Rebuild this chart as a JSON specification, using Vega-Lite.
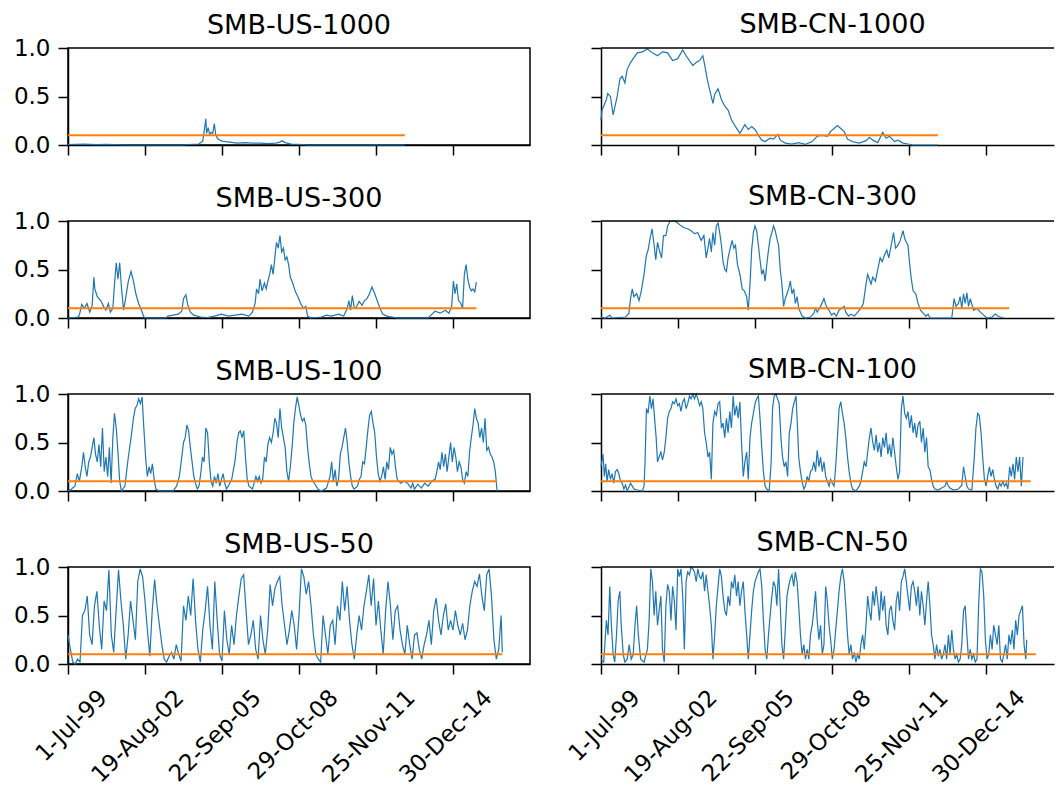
{
"$schema": "https://vega.github.io/schema/vega-lite/v6.json",
"background": "white",
"padding": {"left": 12, "top": 10, "right": 0, "bottom": 0},
"columns": 2,
"spacing": {"row": 76, "column": 71},
"bounds": "flush",
"datasets": {
"a": [{"t":0,"v":0.005},{"t":160,"v":0.01},{"t":300,"v":0.004},{"t":400,"v":0.006},{"t":640,"v":0.0},{"t":1200,"v":0.0},{"t":1240,"v":0.005},{"t":1360,"v":0.01},{"t":1400,"v":0.04},{"t":1416,"v":0.15},{"t":1432,"v":0.27},{"t":1440,"v":0.12},{"t":1456,"v":0.18},{"t":1472,"v":0.11},{"t":1488,"v":0.13},{"t":1504,"v":0.12},{"t":1520,"v":0.22},{"t":1536,"v":0.10},{"t":1560,"v":0.06},{"t":1600,"v":0.04},{"t":1640,"v":0.035},{"t":1680,"v":0.03},{"t":1720,"v":0.025},{"t":1760,"v":0.02},{"t":1840,"v":0.025},{"t":1920,"v":0.02},{"t":2000,"v":0.02},{"t":2080,"v":0.015},{"t":2160,"v":0.02},{"t":2200,"v":0.03},{"t":2224,"v":0.045},{"t":2256,"v":0.025},{"t":2320,"v":0.01},{"t":2440,"v":0.005},{"t":2480,"v":0.0},{"t":3500,"v":0.0}],
"b": [{"t":0,"v":0.26},{"t":10,"v":0.36},{"t":28,"v":0.40},{"t":56,"v":0.47},{"t":70,"v":0.53},{"t":98,"v":0.50},{"t":126,"v":0.31},{"t":168,"v":0.50},{"t":196,"v":0.68},{"t":220,"v":0.71},{"t":248,"v":0.64},{"t":272,"v":0.78},{"t":307,"v":0.85},{"t":342,"v":0.90},{"t":377,"v":0.95},{"t":430,"v":0.96},{"t":482,"v":0.99},{"t":534,"v":0.95},{"t":587,"v":0.92},{"t":639,"v":0.96},{"t":692,"v":0.95},{"t":744,"v":0.87},{"t":797,"v":0.89},{"t":849,"v":0.98},{"t":884,"v":0.92},{"t":919,"v":0.87},{"t":954,"v":0.82},{"t":989,"v":0.85},{"t":1024,"v":0.87},{"t":1058,"v":0.92},{"t":1076,"v":0.83},{"t":1104,"v":0.68},{"t":1128,"v":0.57},{"t":1163,"v":0.43},{"t":1181,"v":0.52},{"t":1216,"v":0.58},{"t":1251,"v":0.47},{"t":1286,"v":0.40},{"t":1320,"v":0.36},{"t":1355,"v":0.26},{"t":1397,"v":0.19},{"t":1443,"v":0.12},{"t":1495,"v":0.21},{"t":1530,"v":0.16},{"t":1565,"v":0.19},{"t":1600,"v":0.16},{"t":1635,"v":0.10},{"t":1670,"v":0.05},{"t":1705,"v":0.035},{"t":1757,"v":0.07},{"t":1792,"v":0.06},{"t":1838,"v":0.11},{"t":1862,"v":0.05},{"t":1914,"v":0.02},{"t":1984,"v":0.01},{"t":2054,"v":0.025},{"t":2124,"v":0.007},{"t":2194,"v":0.035},{"t":2246,"v":0.09},{"t":2299,"v":0.10},{"t":2351,"v":0.09},{"t":2386,"v":0.14},{"t":2421,"v":0.17},{"t":2456,"v":0.20},{"t":2491,"v":0.17},{"t":2526,"v":0.14},{"t":2561,"v":0.06},{"t":2613,"v":0.035},{"t":2683,"v":0.02},{"t":2753,"v":0.045},{"t":2788,"v":0.08},{"t":2823,"v":0.05},{"t":2875,"v":0.025},{"t":2927,"v":0.13},{"t":2962,"v":0.07},{"t":2997,"v":0.09},{"t":3050,"v":0.035},{"t":3085,"v":0.05},{"t":3137,"v":0.02},{"t":3189,"v":0.01},{"t":3242,"v":0.0},{"t":3500,"v":0.0}],
"c": [{"t":0,"v":0.0},{"t":107,"v":0.01},{"t":118,"v":0.03},{"t":143,"v":0.14},{"t":168,"v":0.10},{"t":197,"v":0.15},{"t":226,"v":0.06},{"t":251,"v":0.13},{"t":269,"v":0.42},{"t":279,"v":0.30},{"t":304,"v":0.22},{"t":340,"v":0.18},{"t":369,"v":0.12},{"t":394,"v":0.08},{"t":419,"v":0.15},{"t":440,"v":0.06},{"t":466,"v":0.10},{"t":483,"v":0.35},{"t":501,"v":0.57},{"t":519,"v":0.40},{"t":537,"v":0.57},{"t":555,"v":0.32},{"t":577,"v":0.08},{"t":598,"v":0.20},{"t":627,"v":0.38},{"t":655,"v":0.48},{"t":680,"v":0.38},{"t":705,"v":0.25},{"t":734,"v":0.15},{"t":763,"v":0.08},{"t":788,"v":0.01},{"t":824,"v":0.0},{"t":1021,"v":0.0},{"t":1038,"v":0.02},{"t":1092,"v":0.03},{"t":1146,"v":0.04},{"t":1182,"v":0.07},{"t":1200,"v":0.20},{"t":1225,"v":0.24},{"t":1243,"v":0.14},{"t":1271,"v":0.06},{"t":1307,"v":0.03},{"t":1379,"v":0.01},{"t":1450,"v":0.005},{"t":1522,"v":0.02},{"t":1594,"v":0.04},{"t":1665,"v":0.02},{"t":1737,"v":0.03},{"t":1808,"v":0.04},{"t":1880,"v":0.02},{"t":1916,"v":0.06},{"t":1944,"v":0.15},{"t":1959,"v":0.30},{"t":1980,"v":0.25},{"t":1995,"v":0.40},{"t":2016,"v":0.28},{"t":2041,"v":0.36},{"t":2059,"v":0.30},{"t":2077,"v":0.38},{"t":2095,"v":0.45},{"t":2113,"v":0.55},{"t":2131,"v":0.45},{"t":2149,"v":0.62},{"t":2166,"v":0.78},{"t":2184,"v":0.72},{"t":2202,"v":0.85},{"t":2220,"v":0.68},{"t":2238,"v":0.72},{"t":2256,"v":0.60},{"t":2274,"v":0.63},{"t":2292,"v":0.55},{"t":2310,"v":0.42},{"t":2338,"v":0.35},{"t":2363,"v":0.27},{"t":2389,"v":0.22},{"t":2417,"v":0.15},{"t":2446,"v":0.10},{"t":2471,"v":0.12},{"t":2489,"v":0.02},{"t":2525,"v":0.0},{"t":2632,"v":0.01},{"t":2686,"v":0.03},{"t":2739,"v":0.02},{"t":2811,"v":0.04},{"t":2865,"v":0.02},{"t":2901,"v":0.10},{"t":2918,"v":0.18},{"t":2936,"v":0.08},{"t":2954,"v":0.23},{"t":2972,"v":0.12},{"t":2990,"v":0.10},{"t":3026,"v":0.17},{"t":3055,"v":0.13},{"t":3080,"v":0.18},{"t":3105,"v":0.20},{"t":3133,"v":0.25},{"t":3158,"v":0.32},{"t":3187,"v":0.25},{"t":3212,"v":0.18},{"t":3241,"v":0.10},{"t":3269,"v":0.04},{"t":3312,"v":0.02},{"t":3366,"v":0.01},{"t":3420,"v":0.0},{"t":3742,"v":0.0},{"t":3771,"v":0.03},{"t":3814,"v":0.07},{"t":3867,"v":0.05},{"t":3921,"v":0.08},{"t":3957,"v":0.05},{"t":3986,"v":0.12},{"t":4004,"v":0.38},{"t":4021,"v":0.25},{"t":4039,"v":0.35},{"t":4057,"v":0.18},{"t":4082,"v":0.15},{"t":4100,"v":0.10},{"t":4118,"v":0.45},{"t":4136,"v":0.55},{"t":4154,"v":0.40},{"t":4172,"v":0.32},{"t":4190,"v":0.28},{"t":4208,"v":0.30},{"t":4226,"v":0.27},{"t":4243,"v":0.37}],
"d": [{"t":0,"v":0.01},{"t":45,"v":0.0},{"t":80,"v":0.02},{"t":91,"v":0.03},{"t":115,"v":0.0},{"t":255,"v":0.01},{"t":290,"v":0.05},{"t":307,"v":0.20},{"t":325,"v":0.30},{"t":342,"v":0.22},{"t":370,"v":0.25},{"t":395,"v":0.18},{"t":419,"v":0.28},{"t":447,"v":0.45},{"t":472,"v":0.65},{"t":489,"v":0.70},{"t":510,"v":0.82},{"t":531,"v":0.92},{"t":552,"v":0.75},{"t":569,"v":0.60},{"t":587,"v":0.78},{"t":611,"v":0.68},{"t":629,"v":0.62},{"t":650,"v":0.85},{"t":674,"v":0.85},{"t":692,"v":0.95},{"t":720,"v":1.0},{"t":762,"v":1.0},{"t":797,"v":0.98},{"t":831,"v":0.95},{"t":866,"v":0.93},{"t":901,"v":0.92},{"t":936,"v":0.90},{"t":971,"v":0.87},{"t":1006,"v":0.88},{"t":1041,"v":0.80},{"t":1069,"v":0.85},{"t":1093,"v":0.62},{"t":1111,"v":0.72},{"t":1128,"v":0.82},{"t":1146,"v":0.68},{"t":1163,"v":0.88},{"t":1181,"v":0.75},{"t":1198,"v":0.95},{"t":1216,"v":0.98},{"t":1233,"v":0.88},{"t":1251,"v":0.75},{"t":1268,"v":0.58},{"t":1286,"v":0.50},{"t":1303,"v":0.48},{"t":1320,"v":0.62},{"t":1338,"v":0.70},{"t":1362,"v":0.80},{"t":1380,"v":0.72},{"t":1397,"v":0.75},{"t":1418,"v":0.55},{"t":1443,"v":0.45},{"t":1467,"v":0.30},{"t":1488,"v":0.28},{"t":1513,"v":0.22},{"t":1530,"v":0.08},{"t":1548,"v":0.35},{"t":1565,"v":0.70},{"t":1583,"v":0.88},{"t":1600,"v":0.95},{"t":1617,"v":0.90},{"t":1635,"v":0.75},{"t":1652,"v":0.60},{"t":1670,"v":0.45},{"t":1687,"v":0.50},{"t":1705,"v":0.38},{"t":1722,"v":0.55},{"t":1740,"v":0.70},{"t":1757,"v":0.82},{"t":1775,"v":0.88},{"t":1792,"v":0.95},{"t":1810,"v":0.90},{"t":1827,"v":0.82},{"t":1845,"v":0.75},{"t":1862,"v":0.50},{"t":1879,"v":0.35},{"t":1897,"v":0.12},{"t":1914,"v":0.20},{"t":1932,"v":0.25},{"t":1949,"v":0.30},{"t":1967,"v":0.38},{"t":1984,"v":0.25},{"t":2002,"v":0.30},{"t":2019,"v":0.15},{"t":2037,"v":0.22},{"t":2054,"v":0.10},{"t":2089,"v":0.02},{"t":2124,"v":0.0},{"t":2176,"v":0.01},{"t":2211,"v":0.05},{"t":2229,"v":0.10},{"t":2246,"v":0.06},{"t":2281,"v":0.12},{"t":2316,"v":0.20},{"t":2334,"v":0.14},{"t":2351,"v":0.10},{"t":2369,"v":0.08},{"t":2396,"v":0.03},{"t":2421,"v":0.05},{"t":2445,"v":0.02},{"t":2473,"v":0.08},{"t":2501,"v":0.10},{"t":2526,"v":0.12},{"t":2543,"v":0.06},{"t":2571,"v":0.02},{"t":2596,"v":0.04},{"t":2631,"v":0.02},{"t":2666,"v":0.06},{"t":2700,"v":0.10},{"t":2725,"v":0.15},{"t":2753,"v":0.35},{"t":2770,"v":0.45},{"t":2788,"v":0.40},{"t":2805,"v":0.35},{"t":2823,"v":0.42},{"t":2851,"v":0.38},{"t":2875,"v":0.50},{"t":2900,"v":0.62},{"t":2921,"v":0.58},{"t":2945,"v":0.65},{"t":2969,"v":0.70},{"t":2990,"v":0.62},{"t":3015,"v":0.75},{"t":3039,"v":0.88},{"t":3060,"v":0.72},{"t":3085,"v":0.75},{"t":3109,"v":0.80},{"t":3137,"v":0.90},{"t":3155,"v":0.82},{"t":3172,"v":0.78},{"t":3189,"v":0.75},{"t":3207,"v":0.55},{"t":3224,"v":0.40},{"t":3242,"v":0.28},{"t":3270,"v":0.25},{"t":3294,"v":0.15},{"t":3319,"v":0.08},{"t":3347,"v":0.05},{"t":3375,"v":0.02},{"t":3399,"v":0.04},{"t":3417,"v":0.0},{"t":3644,"v":0.0},{"t":3668,"v":0.20},{"t":3689,"v":0.12},{"t":3713,"v":0.15},{"t":3731,"v":0.22},{"t":3748,"v":0.10},{"t":3766,"v":0.25},{"t":3783,"v":0.15},{"t":3801,"v":0.26},{"t":3818,"v":0.12},{"t":3836,"v":0.20},{"t":3871,"v":0.08},{"t":3906,"v":0.10},{"t":3941,"v":0.06},{"t":3976,"v":0.03},{"t":4010,"v":0.0},{"t":4063,"v":0.01},{"t":4098,"v":0.04},{"t":4122,"v":0.02},{"t":4150,"v":0.01},{"t":4185,"v":0.0}],
"e": [{"t":0,"v":0.0},{"t":36,"v":0.02},{"t":72,"v":0.05},{"t":97,"v":0.18},{"t":118,"v":0.10},{"t":143,"v":0.25},{"t":161,"v":0.40},{"t":179,"v":0.25},{"t":197,"v":0.15},{"t":215,"v":0.30},{"t":233,"v":0.35},{"t":251,"v":0.45},{"t":269,"v":0.55},{"t":286,"v":0.38},{"t":304,"v":0.30},{"t":322,"v":0.48},{"t":340,"v":0.25},{"t":358,"v":0.65},{"t":376,"v":0.20},{"t":394,"v":0.35},{"t":412,"v":0.15},{"t":430,"v":0.45},{"t":448,"v":0.08},{"t":466,"v":0.55},{"t":483,"v":0.80},{"t":501,"v":0.65},{"t":519,"v":0.40},{"t":537,"v":0.10},{"t":555,"v":0.0},{"t":591,"v":0.05},{"t":627,"v":0.35},{"t":655,"v":0.55},{"t":680,"v":0.75},{"t":698,"v":0.85},{"t":716,"v":0.88},{"t":734,"v":0.95},{"t":752,"v":0.90},{"t":770,"v":0.97},{"t":788,"v":0.65},{"t":806,"v":0.35},{"t":824,"v":0.15},{"t":842,"v":0.25},{"t":859,"v":0.18},{"t":877,"v":0.28},{"t":895,"v":0.12},{"t":913,"v":0.02},{"t":949,"v":0.0},{"t":1092,"v":0.0},{"t":1128,"v":0.05},{"t":1157,"v":0.15},{"t":1182,"v":0.35},{"t":1200,"v":0.50},{"t":1218,"v":0.55},{"t":1235,"v":0.68},{"t":1253,"v":0.62},{"t":1271,"v":0.45},{"t":1289,"v":0.30},{"t":1307,"v":0.15},{"t":1325,"v":0.08},{"t":1343,"v":0.02},{"t":1361,"v":0.05},{"t":1379,"v":0.18},{"t":1397,"v":0.35},{"t":1414,"v":0.30},{"t":1432,"v":0.65},{"t":1450,"v":0.60},{"t":1468,"v":0.30},{"t":1486,"v":0.10},{"t":1504,"v":0.05},{"t":1522,"v":0.15},{"t":1540,"v":0.08},{"t":1558,"v":0.18},{"t":1576,"v":0.05},{"t":1594,"v":0.12},{"t":1611,"v":0.18},{"t":1629,"v":0.08},{"t":1647,"v":0.02},{"t":1665,"v":0.05},{"t":1701,"v":0.12},{"t":1737,"v":0.32},{"t":1755,"v":0.50},{"t":1773,"v":0.60},{"t":1790,"v":0.62},{"t":1808,"v":0.55},{"t":1826,"v":0.62},{"t":1844,"v":0.35},{"t":1862,"v":0.12},{"t":1880,"v":0.05},{"t":1916,"v":0.02},{"t":1952,"v":0.15},{"t":1970,"v":0.10},{"t":1987,"v":0.15},{"t":2005,"v":0.08},{"t":2023,"v":0.12},{"t":2041,"v":0.35},{"t":2059,"v":0.30},{"t":2077,"v":0.48},{"t":2095,"v":0.55},{"t":2113,"v":0.50},{"t":2131,"v":0.60},{"t":2149,"v":0.75},{"t":2166,"v":0.70},{"t":2184,"v":0.55},{"t":2202,"v":0.85},{"t":2220,"v":0.65},{"t":2238,"v":0.55},{"t":2256,"v":0.45},{"t":2274,"v":0.20},{"t":2292,"v":0.10},{"t":2310,"v":0.25},{"t":2328,"v":0.45},{"t":2346,"v":0.70},{"t":2363,"v":0.85},{"t":2381,"v":0.97},{"t":2399,"v":0.88},{"t":2417,"v":0.78},{"t":2435,"v":0.72},{"t":2453,"v":0.75},{"t":2471,"v":0.68},{"t":2489,"v":0.45},{"t":2507,"v":0.28},{"t":2525,"v":0.15},{"t":2543,"v":0.10},{"t":2560,"v":0.08},{"t":2578,"v":0.05},{"t":2596,"v":0.02},{"t":2632,"v":0.0},{"t":2686,"v":0.03},{"t":2722,"v":0.15},{"t":2739,"v":0.30},{"t":2757,"v":0.10},{"t":2775,"v":0.22},{"t":2793,"v":0.05},{"t":2811,"v":0.12},{"t":2829,"v":0.38},{"t":2847,"v":0.45},{"t":2865,"v":0.55},{"t":2883,"v":0.65},{"t":2901,"v":0.50},{"t":2918,"v":0.30},{"t":2936,"v":0.15},{"t":2954,"v":0.05},{"t":2972,"v":0.02},{"t":3008,"v":0.05},{"t":3026,"v":0.12},{"t":3044,"v":0.15},{"t":3062,"v":0.30},{"t":3080,"v":0.28},{"t":3098,"v":0.45},{"t":3115,"v":0.62},{"t":3133,"v":0.78},{"t":3151,"v":0.82},{"t":3169,"v":0.70},{"t":3187,"v":0.60},{"t":3205,"v":0.35},{"t":3223,"v":0.18},{"t":3241,"v":0.10},{"t":3259,"v":0.15},{"t":3277,"v":0.25},{"t":3295,"v":0.12},{"t":3312,"v":0.30},{"t":3330,"v":0.22},{"t":3348,"v":0.45},{"t":3366,"v":0.38},{"t":3384,"v":0.42},{"t":3402,"v":0.25},{"t":3420,"v":0.12},{"t":3456,"v":0.08},{"t":3491,"v":0.10},{"t":3527,"v":0.08},{"t":3563,"v":0.03},{"t":3581,"v":0.08},{"t":3599,"v":0.02},{"t":3635,"v":0.07},{"t":3671,"v":0.03},{"t":3706,"v":0.08},{"t":3742,"v":0.05},{"t":3778,"v":0.10},{"t":3814,"v":0.12},{"t":3832,"v":0.20},{"t":3850,"v":0.30},{"t":3867,"v":0.22},{"t":3885,"v":0.40},{"t":3903,"v":0.25},{"t":3921,"v":0.38},{"t":3939,"v":0.20},{"t":3957,"v":0.35},{"t":3975,"v":0.50},{"t":3993,"v":0.30},{"t":4011,"v":0.45},{"t":4029,"v":0.35},{"t":4046,"v":0.20},{"t":4064,"v":0.30},{"t":4082,"v":0.25},{"t":4100,"v":0.12},{"t":4118,"v":0.08},{"t":4136,"v":0.20},{"t":4154,"v":0.15},{"t":4172,"v":0.40},{"t":4190,"v":0.55},{"t":4208,"v":0.68},{"t":4226,"v":0.85},{"t":4243,"v":0.75},{"t":4261,"v":0.70},{"t":4279,"v":0.55},{"t":4297,"v":0.65},{"t":4315,"v":0.50},{"t":4333,"v":0.75},{"t":4351,"v":0.42},{"t":4369,"v":0.45},{"t":4387,"v":0.38},{"t":4405,"v":0.35},{"t":4423,"v":0.30},{"t":4440,"v":0.20},{"t":4458,"v":0.0}],
"f": [{"t":0,"v":0.25},{"t":21,"v":0.38},{"t":35,"v":0.15},{"t":49,"v":0.28},{"t":63,"v":0.10},{"t":80,"v":0.22},{"t":98,"v":0.12},{"t":115,"v":0.18},{"t":133,"v":0.08},{"t":150,"v":0.20},{"t":168,"v":0.22},{"t":185,"v":0.18},{"t":203,"v":0.10},{"t":220,"v":0.08},{"t":238,"v":0.02},{"t":255,"v":0.06},{"t":272,"v":0.0},{"t":307,"v":0.08},{"t":325,"v":0.05},{"t":342,"v":0.02},{"t":377,"v":0.01},{"t":430,"v":0.0},{"t":447,"v":0.05},{"t":458,"v":0.30},{"t":472,"v":0.85},{"t":489,"v":0.80},{"t":507,"v":0.98},{"t":524,"v":0.85},{"t":541,"v":0.95},{"t":559,"v":0.72},{"t":573,"v":0.55},{"t":587,"v":0.30},{"t":604,"v":0.35},{"t":622,"v":0.40},{"t":639,"v":0.32},{"t":657,"v":0.40},{"t":674,"v":0.55},{"t":692,"v":0.75},{"t":709,"v":0.82},{"t":727,"v":0.85},{"t":744,"v":0.92},{"t":762,"v":0.90},{"t":779,"v":0.95},{"t":797,"v":0.88},{"t":814,"v":0.90},{"t":831,"v":0.82},{"t":849,"v":0.92},{"t":866,"v":0.95},{"t":884,"v":0.85},{"t":901,"v":0.90},{"t":919,"v":0.98},{"t":936,"v":0.95},{"t":954,"v":1.0},{"t":971,"v":0.95},{"t":989,"v":1.0},{"t":1006,"v":0.95},{"t":1024,"v":0.88},{"t":1041,"v":0.92},{"t":1058,"v":0.85},{"t":1076,"v":0.60},{"t":1093,"v":0.50},{"t":1111,"v":0.35},{"t":1128,"v":0.40},{"t":1146,"v":0.12},{"t":1163,"v":0.70},{"t":1181,"v":0.82},{"t":1198,"v":0.78},{"t":1216,"v":0.90},{"t":1233,"v":0.92},{"t":1251,"v":0.65},{"t":1268,"v":0.70},{"t":1286,"v":0.55},{"t":1303,"v":0.75},{"t":1320,"v":0.60},{"t":1338,"v":0.82},{"t":1355,"v":0.65},{"t":1373,"v":0.98},{"t":1390,"v":0.78},{"t":1408,"v":0.88},{"t":1425,"v":0.75},{"t":1443,"v":0.92},{"t":1460,"v":0.50},{"t":1478,"v":0.15},{"t":1495,"v":0.30},{"t":1513,"v":0.40},{"t":1530,"v":0.12},{"t":1548,"v":0.55},{"t":1565,"v":0.70},{"t":1583,"v":0.80},{"t":1600,"v":0.90},{"t":1617,"v":0.95},{"t":1635,"v":0.98},{"t":1652,"v":0.75},{"t":1670,"v":0.45},{"t":1687,"v":0.20},{"t":1705,"v":0.05},{"t":1722,"v":0.02},{"t":1747,"v":0.0},{"t":1768,"v":0.30},{"t":1782,"v":0.85},{"t":1799,"v":0.98},{"t":1817,"v":1.0},{"t":1834,"v":0.95},{"t":1851,"v":0.90},{"t":1869,"v":0.55},{"t":1886,"v":0.35},{"t":1904,"v":0.25},{"t":1921,"v":0.30},{"t":1939,"v":0.15},{"t":1956,"v":0.60},{"t":1974,"v":0.70},{"t":1991,"v":0.85},{"t":2009,"v":0.92},{"t":2026,"v":0.98},{"t":2044,"v":0.60},{"t":2054,"v":0.35},{"t":2072,"v":0.20},{"t":2089,"v":0.10},{"t":2107,"v":0.02},{"t":2124,"v":0.05},{"t":2142,"v":0.15},{"t":2159,"v":0.10},{"t":2176,"v":0.20},{"t":2194,"v":0.22},{"t":2211,"v":0.30},{"t":2229,"v":0.20},{"t":2246,"v":0.42},{"t":2264,"v":0.25},{"t":2281,"v":0.35},{"t":2299,"v":0.20},{"t":2316,"v":0.30},{"t":2334,"v":0.15},{"t":2351,"v":0.10},{"t":2369,"v":0.05},{"t":2386,"v":0.12},{"t":2403,"v":0.08},{"t":2421,"v":0.05},{"t":2438,"v":0.25},{"t":2456,"v":0.55},{"t":2473,"v":0.85},{"t":2491,"v":0.92},{"t":2508,"v":0.80},{"t":2526,"v":0.70},{"t":2543,"v":0.55},{"t":2561,"v":0.35},{"t":2578,"v":0.20},{"t":2596,"v":0.08},{"t":2613,"v":0.02},{"t":2648,"v":0.0},{"t":2683,"v":0.05},{"t":2700,"v":0.10},{"t":2718,"v":0.20},{"t":2735,"v":0.30},{"t":2753,"v":0.25},{"t":2770,"v":0.40},{"t":2788,"v":0.55},{"t":2805,"v":0.65},{"t":2823,"v":0.50},{"t":2840,"v":0.42},{"t":2858,"v":0.58},{"t":2875,"v":0.40},{"t":2893,"v":0.50},{"t":2910,"v":0.35},{"t":2927,"v":0.55},{"t":2945,"v":0.45},{"t":2962,"v":0.60},{"t":2980,"v":0.38},{"t":2997,"v":0.48},{"t":3015,"v":0.35},{"t":3032,"v":0.55},{"t":3050,"v":0.40},{"t":3067,"v":0.25},{"t":3085,"v":0.12},{"t":3102,"v":0.20},{"t":3120,"v":0.85},{"t":3137,"v":0.98},{"t":3155,"v":0.80},{"t":3172,"v":0.75},{"t":3189,"v":0.82},{"t":3207,"v":0.65},{"t":3224,"v":0.78},{"t":3242,"v":0.60},{"t":3259,"v":0.70},{"t":3277,"v":0.55},{"t":3294,"v":0.68},{"t":3312,"v":0.72},{"t":3329,"v":0.50},{"t":3347,"v":0.65},{"t":3364,"v":0.40},{"t":3382,"v":0.55},{"t":3399,"v":0.25},{"t":3417,"v":0.22},{"t":3434,"v":0.12},{"t":3451,"v":0.05},{"t":3469,"v":0.02},{"t":3504,"v":0.01},{"t":3539,"v":0.03},{"t":3574,"v":0.05},{"t":3591,"v":0.10},{"t":3609,"v":0.05},{"t":3626,"v":0.03},{"t":3661,"v":0.01},{"t":3713,"v":0.02},{"t":3748,"v":0.06},{"t":3766,"v":0.25},{"t":3783,"v":0.15},{"t":3801,"v":0.05},{"t":3818,"v":0.02},{"t":3853,"v":0.01},{"t":3878,"v":0.35},{"t":3895,"v":0.65},{"t":3913,"v":0.80},{"t":3930,"v":0.78},{"t":3948,"v":0.60},{"t":3965,"v":0.35},{"t":3983,"v":0.12},{"t":4000,"v":0.05},{"t":4017,"v":0.15},{"t":4035,"v":0.25},{"t":4052,"v":0.15},{"t":4070,"v":0.22},{"t":4087,"v":0.12},{"t":4105,"v":0.05},{"t":4122,"v":0.02},{"t":4140,"v":0.08},{"t":4157,"v":0.05},{"t":4175,"v":0.10},{"t":4192,"v":0.05},{"t":4210,"v":0.08},{"t":4227,"v":0.02},{"t":4245,"v":0.25},{"t":4262,"v":0.15},{"t":4280,"v":0.28},{"t":4297,"v":0.12},{"t":4314,"v":0.35},{"t":4332,"v":0.20},{"t":4349,"v":0.35},{"t":4367,"v":0.05},{"t":4384,"v":0.35}],
"g": [{"t":0,"v":0.30},{"t":25,"v":0.15},{"t":50,"v":0.02},{"t":75,"v":0.0},{"t":100,"v":0.05},{"t":125,"v":0.02},{"t":150,"v":0.50},{"t":175,"v":0.55},{"t":200,"v":0.70},{"t":225,"v":0.30},{"t":250,"v":0.20},{"t":275,"v":0.60},{"t":300,"v":0.75},{"t":325,"v":0.40},{"t":350,"v":0.15},{"t":375,"v":0.65},{"t":400,"v":0.55},{"t":425,"v":0.97},{"t":450,"v":0.30},{"t":475,"v":0.12},{"t":500,"v":0.55},{"t":525,"v":0.97},{"t":550,"v":0.65},{"t":575,"v":0.40},{"t":600,"v":0.05},{"t":625,"v":0.30},{"t":650,"v":0.65},{"t":675,"v":0.45},{"t":700,"v":0.25},{"t":725,"v":0.85},{"t":750,"v":0.98},{"t":775,"v":0.90},{"t":800,"v":0.65},{"t":825,"v":0.35},{"t":850,"v":0.08},{"t":875,"v":0.55},{"t":900,"v":0.87},{"t":925,"v":0.60},{"t":950,"v":0.40},{"t":975,"v":0.20},{"t":1000,"v":0.05},{"t":1025,"v":0.02},{"t":1050,"v":0.08},{"t":1075,"v":0.12},{"t":1100,"v":0.05},{"t":1125,"v":0.20},{"t":1150,"v":0.10},{"t":1175,"v":0.03},{"t":1200,"v":0.60},{"t":1225,"v":0.45},{"t":1250,"v":0.70},{"t":1275,"v":0.50},{"t":1300,"v":0.88},{"t":1325,"v":0.45},{"t":1350,"v":0.15},{"t":1375,"v":0.02},{"t":1400,"v":0.35},{"t":1425,"v":0.55},{"t":1450,"v":0.80},{"t":1475,"v":0.40},{"t":1500,"v":0.15},{"t":1525,"v":0.85},{"t":1550,"v":0.45},{"t":1575,"v":0.10},{"t":1600,"v":0.03},{"t":1625,"v":0.55},{"t":1650,"v":0.25},{"t":1675,"v":0.10},{"t":1700,"v":0.40},{"t":1725,"v":0.20},{"t":1750,"v":0.50},{"t":1775,"v":0.70},{"t":1800,"v":0.88},{"t":1825,"v":0.92},{"t":1850,"v":0.55},{"t":1875,"v":0.20},{"t":1900,"v":0.30},{"t":1925,"v":0.45},{"t":1950,"v":0.15},{"t":1975,"v":0.05},{"t":2000,"v":0.50},{"t":2025,"v":0.25},{"t":2050,"v":0.10},{"t":2075,"v":0.35},{"t":2100,"v":0.82},{"t":2125,"v":0.60},{"t":2150,"v":0.78},{"t":2175,"v":0.85},{"t":2200,"v":0.90},{"t":2225,"v":0.60},{"t":2250,"v":0.40},{"t":2275,"v":0.20},{"t":2300,"v":0.35},{"t":2325,"v":0.55},{"t":2350,"v":0.40},{"t":2375,"v":0.15},{"t":2400,"v":0.50},{"t":2425,"v":0.98},{"t":2450,"v":0.90},{"t":2475,"v":0.72},{"t":2500,"v":0.85},{"t":2525,"v":0.60},{"t":2550,"v":0.30},{"t":2575,"v":0.10},{"t":2600,"v":0.05},{"t":2625,"v":0.02},{"t":2650,"v":0.50},{"t":2675,"v":0.30},{"t":2700,"v":0.10},{"t":2725,"v":0.40},{"t":2750,"v":0.45},{"t":2775,"v":0.20},{"t":2800,"v":0.60},{"t":2825,"v":0.45},{"t":2850,"v":0.85},{"t":2875,"v":0.55},{"t":2900,"v":0.80},{"t":2925,"v":0.45},{"t":2950,"v":0.20},{"t":2975,"v":0.05},{"t":3000,"v":0.30},{"t":3025,"v":0.50},{"t":3050,"v":0.35},{"t":3075,"v":0.60},{"t":3100,"v":0.75},{"t":3125,"v":0.92},{"t":3150,"v":0.60},{"t":3175,"v":0.88},{"t":3200,"v":0.40},{"t":3225,"v":0.65},{"t":3250,"v":0.35},{"t":3275,"v":0.10},{"t":3300,"v":0.55},{"t":3325,"v":0.85},{"t":3350,"v":0.60},{"t":3375,"v":0.25},{"t":3400,"v":0.55},{"t":3425,"v":0.60},{"t":3450,"v":0.35},{"t":3475,"v":0.20},{"t":3500,"v":0.10},{"t":3525,"v":0.40},{"t":3550,"v":0.20},{"t":3575,"v":0.05},{"t":3600,"v":0.30},{"t":3625,"v":0.32},{"t":3650,"v":0.15},{"t":3675,"v":0.05},{"t":3700,"v":0.20},{"t":3725,"v":0.30},{"t":3750,"v":0.45},{"t":3775,"v":0.20},{"t":3800,"v":0.55},{"t":3825,"v":0.68},{"t":3850,"v":0.45},{"t":3875,"v":0.30},{"t":3900,"v":0.50},{"t":3925,"v":0.62},{"t":3950,"v":0.35},{"t":3975,"v":0.45},{"t":4000,"v":0.35},{"t":4025,"v":0.55},{"t":4050,"v":0.40},{"t":4075,"v":0.30},{"t":4100,"v":0.42},{"t":4125,"v":0.25},{"t":4150,"v":0.35},{"t":4175,"v":0.60},{"t":4200,"v":0.75},{"t":4225,"v":0.85},{"t":4250,"v":0.80},{"t":4275,"v":0.93},{"t":4300,"v":0.70},{"t":4325,"v":0.55},{"t":4350,"v":0.92},{"t":4375,"v":0.98},{"t":4400,"v":0.70},{"t":4425,"v":0.25},{"t":4450,"v":0.05},{"t":4475,"v":0.15},{"t":4500,"v":0.50},{"t":4512,"v":0.12}],
"h": [{"t":0,"v":0.05},{"t":28,"v":0.02},{"t":56,"v":0.45},{"t":73,"v":0.30},{"t":91,"v":0.80},{"t":108,"v":0.40},{"t":126,"v":0.10},{"t":143,"v":0.02},{"t":161,"v":0.30},{"t":178,"v":0.65},{"t":196,"v":0.75},{"t":210,"v":0.40},{"t":231,"v":0.10},{"t":248,"v":0.02},{"t":272,"v":0.05},{"t":293,"v":0.20},{"t":314,"v":0.05},{"t":335,"v":0.10},{"t":353,"v":0.40},{"t":370,"v":0.60},{"t":388,"v":0.30},{"t":412,"v":0.05},{"t":447,"v":0.02},{"t":482,"v":0.15},{"t":500,"v":0.45},{"t":517,"v":0.98},{"t":534,"v":0.85},{"t":552,"v":0.50},{"t":569,"v":0.75},{"t":587,"v":0.40},{"t":604,"v":0.55},{"t":622,"v":0.70},{"t":639,"v":0.15},{"t":657,"v":0.02},{"t":674,"v":0.60},{"t":692,"v":0.82},{"t":709,"v":0.75},{"t":727,"v":0.45},{"t":744,"v":0.80},{"t":762,"v":0.65},{"t":779,"v":0.35},{"t":797,"v":0.98},{"t":814,"v":0.90},{"t":831,"v":0.98},{"t":849,"v":0.70},{"t":866,"v":0.15},{"t":884,"v":0.85},{"t":901,"v":0.95},{"t":919,"v":0.92},{"t":936,"v":1.0},{"t":954,"v":0.98},{"t":971,"v":0.95},{"t":989,"v":0.85},{"t":1006,"v":0.98},{"t":1024,"v":0.90},{"t":1041,"v":0.88},{"t":1058,"v":0.95},{"t":1076,"v":0.75},{"t":1093,"v":0.92},{"t":1111,"v":0.75},{"t":1128,"v":0.60},{"t":1146,"v":0.40},{"t":1163,"v":0.05},{"t":1181,"v":0.30},{"t":1198,"v":0.60},{"t":1216,"v":0.80},{"t":1233,"v":0.98},{"t":1251,"v":0.90},{"t":1268,"v":0.70},{"t":1286,"v":0.55},{"t":1303,"v":0.50},{"t":1320,"v":0.70},{"t":1338,"v":0.60},{"t":1355,"v":0.85},{"t":1373,"v":0.78},{"t":1390,"v":0.92},{"t":1408,"v":0.70},{"t":1425,"v":0.85},{"t":1443,"v":0.60},{"t":1460,"v":0.75},{"t":1478,"v":0.85},{"t":1495,"v":0.55},{"t":1513,"v":0.30},{"t":1530,"v":0.05},{"t":1548,"v":0.30},{"t":1565,"v":0.55},{"t":1583,"v":0.75},{"t":1600,"v":0.85},{"t":1617,"v":0.90},{"t":1635,"v":0.95},{"t":1652,"v":0.98},{"t":1670,"v":0.80},{"t":1687,"v":0.45},{"t":1705,"v":0.15},{"t":1722,"v":0.05},{"t":1740,"v":0.30},{"t":1757,"v":0.50},{"t":1775,"v":0.70},{"t":1792,"v":0.85},{"t":1810,"v":0.80},{"t":1827,"v":0.60},{"t":1845,"v":0.98},{"t":1862,"v":0.60},{"t":1879,"v":0.20},{"t":1897,"v":0.05},{"t":1914,"v":0.35},{"t":1932,"v":0.70},{"t":1949,"v":0.80},{"t":1967,"v":0.88},{"t":1984,"v":0.92},{"t":2002,"v":0.80},{"t":2019,"v":0.95},{"t":2037,"v":0.85},{"t":2054,"v":0.60},{"t":2072,"v":0.30},{"t":2089,"v":0.10},{"t":2107,"v":0.20},{"t":2124,"v":0.05},{"t":2142,"v":0.15},{"t":2159,"v":0.05},{"t":2176,"v":0.30},{"t":2194,"v":0.40},{"t":2211,"v":0.55},{"t":2229,"v":0.75},{"t":2246,"v":0.45},{"t":2264,"v":0.25},{"t":2281,"v":0.40},{"t":2299,"v":0.10},{"t":2316,"v":0.20},{"t":2334,"v":0.80},{"t":2351,"v":0.65},{"t":2369,"v":0.40},{"t":2386,"v":0.25},{"t":2403,"v":0.05},{"t":2421,"v":0.15},{"t":2438,"v":0.35},{"t":2456,"v":0.55},{"t":2473,"v":0.75},{"t":2491,"v":0.90},{"t":2508,"v":0.98},{"t":2526,"v":0.85},{"t":2543,"v":0.60},{"t":2561,"v":0.30},{"t":2578,"v":0.10},{"t":2596,"v":0.20},{"t":2613,"v":0.05},{"t":2631,"v":0.12},{"t":2648,"v":0.02},{"t":2666,"v":0.10},{"t":2683,"v":0.05},{"t":2700,"v":0.20},{"t":2718,"v":0.30},{"t":2735,"v":0.15},{"t":2753,"v":0.40},{"t":2770,"v":0.70},{"t":2788,"v":0.55},{"t":2805,"v":0.45},{"t":2823,"v":0.75},{"t":2840,"v":0.60},{"t":2858,"v":0.80},{"t":2875,"v":0.65},{"t":2893,"v":0.45},{"t":2910,"v":0.75},{"t":2927,"v":0.55},{"t":2945,"v":0.70},{"t":2962,"v":0.40},{"t":2980,"v":0.30},{"t":2997,"v":0.55},{"t":3015,"v":0.60},{"t":3032,"v":0.45},{"t":3050,"v":0.35},{"t":3067,"v":0.65},{"t":3085,"v":0.75},{"t":3102,"v":0.55},{"t":3120,"v":0.85},{"t":3137,"v":0.90},{"t":3155,"v":0.98},{"t":3172,"v":0.85},{"t":3189,"v":0.70},{"t":3207,"v":0.55},{"t":3224,"v":0.80},{"t":3242,"v":0.85},{"t":3259,"v":0.75},{"t":3277,"v":0.60},{"t":3294,"v":0.80},{"t":3312,"v":0.50},{"t":3329,"v":0.75},{"t":3347,"v":0.60},{"t":3364,"v":0.40},{"t":3382,"v":0.65},{"t":3399,"v":0.85},{"t":3417,"v":0.60},{"t":3434,"v":0.30},{"t":3451,"v":0.20},{"t":3469,"v":0.05},{"t":3486,"v":0.20},{"t":3504,"v":0.08},{"t":3521,"v":0.15},{"t":3539,"v":0.05},{"t":3556,"v":0.10},{"t":3574,"v":0.20},{"t":3591,"v":0.05},{"t":3609,"v":0.30},{"t":3626,"v":0.10},{"t":3644,"v":0.35},{"t":3661,"v":0.15},{"t":3679,"v":0.05},{"t":3696,"v":0.10},{"t":3713,"v":0.02},{"t":3731,"v":0.05},{"t":3748,"v":0.20},{"t":3766,"v":0.55},{"t":3783,"v":0.60},{"t":3801,"v":0.30},{"t":3818,"v":0.05},{"t":3836,"v":0.15},{"t":3853,"v":0.05},{"t":3871,"v":0.10},{"t":3888,"v":0.02},{"t":3906,"v":0.05},{"t":3923,"v":0.60},{"t":3941,"v":0.98},{"t":3958,"v":0.95},{"t":3976,"v":0.70},{"t":3993,"v":0.25},{"t":4010,"v":0.05},{"t":4028,"v":0.10},{"t":4045,"v":0.30},{"t":4063,"v":0.15},{"t":4080,"v":0.40},{"t":4098,"v":0.30},{"t":4115,"v":0.20},{"t":4133,"v":0.40},{"t":4150,"v":0.05},{"t":4168,"v":0.02},{"t":4185,"v":0.10},{"t":4203,"v":0.20},{"t":4220,"v":0.05},{"t":4238,"v":0.30},{"t":4255,"v":0.20},{"t":4273,"v":0.35},{"t":4290,"v":0.15},{"t":4308,"v":0.45},{"t":4325,"v":0.30},{"t":4343,"v":0.50},{"t":4360,"v":0.55},{"t":4378,"v":0.60},{"t":4395,"v":0.20},{"t":4413,"v":0.05},{"t":4423,"v":0.25}]
},
"concat": [
{"width": 462, "height": 97, "title": {"text": "SMB-US-1000", "offset": -3},
 "layer": [
  {"data": {"name": "a"}, "mark": {"type": "line", "color": "#1f77b4", "strokeWidth": 1.2},
   "encoding": {"x": {"field": "t", "type": "quantitative", "title": null, "scale": {"domain": [0, 4800], "nice": false, "zero": false}, "axis": {"values": [0, 800, 1600, 2400, 3200, 4000], "labels": false}},
                "y": {"field": "v", "type": "quantitative", "title": null, "scale": {"domain": [0, 1], "nice": false}, "axis": {"values": [0, 0.5, 1], "format": ".1f"}}}},
  {"data": {"values": [{"t0": 0, "t1": 3500, "p": 0.1}]}, "mark": {"type": "rule", "color": "#ff7f0e", "strokeWidth": 2},
   "encoding": {"x": {"field": "t0", "type": "quantitative", "title": null}, "x2": {"field": "t1"}, "y": {"field": "p", "type": "quantitative", "title": null}}}
 ]},
{"width": 453, "height": 97, "title": {"text": "SMB-CN-1000", "dx": 5}, "view": {"stroke": null},
 "layer": [
  {"data": {"name": "b"}, "mark": {"type": "line", "color": "#1f77b4", "strokeWidth": 1.2},
   "encoding": {"x": {"field": "t", "type": "quantitative", "title": null, "scale": {"domain": [0, 4706], "nice": false, "zero": false}, "axis": {"values": [0, 800, 1600, 2400, 3200, 4000], "labels": false}},
                "y": {"field": "v", "type": "quantitative", "title": null, "scale": {"domain": [0, 1], "nice": false}, "axis": {"values": [0, 0.5, 1], "labels": false}}}},
  {"data": {"values": [{"t0": 0, "t1": 3500, "p": 0.1}]}, "mark": {"type": "rule", "color": "#ff7f0e", "strokeWidth": 2},
   "encoding": {"x": {"field": "t0", "type": "quantitative", "title": null}, "x2": {"field": "t1"}, "y": {"field": "p", "type": "quantitative", "title": null}}},
  {"data": {"values": [{"top": 1}]}, "mark": {"type": "rule", "color": "black", "strokeWidth": 1.5},
   "encoding": {"y": {"field": "top", "type": "quantitative", "title": null}}}
 ]},
{"width": 462, "height": 97, "title": {"text": "SMB-US-300", "offset": -3},
 "layer": [
  {"data": {"name": "c"}, "mark": {"type": "line", "color": "#1f77b4", "strokeWidth": 1.2},
   "encoding": {"x": {"field": "t", "type": "quantitative", "title": null, "scale": {"domain": [0, 4800], "nice": false, "zero": false}, "axis": {"values": [0, 800, 1600, 2400, 3200, 4000], "labels": false}},
                "y": {"field": "v", "type": "quantitative", "title": null, "scale": {"domain": [0, 1], "nice": false}, "axis": {"values": [0, 0.5, 1], "format": ".1f"}}}},
  {"data": {"values": [{"t0": 0, "t1": 4243, "p": 0.1}]}, "mark": {"type": "rule", "color": "#ff7f0e", "strokeWidth": 2},
   "encoding": {"x": {"field": "t0", "type": "quantitative", "title": null}, "x2": {"field": "t1"}, "y": {"field": "p", "type": "quantitative", "title": null}}}
 ]},
{"width": 453, "height": 97, "title": {"text": "SMB-CN-300", "dx": 5}, "view": {"stroke": null},
 "layer": [
  {"data": {"name": "d"}, "mark": {"type": "line", "color": "#1f77b4", "strokeWidth": 1.2},
   "encoding": {"x": {"field": "t", "type": "quantitative", "title": null, "scale": {"domain": [0, 4706], "nice": false, "zero": false}, "axis": {"values": [0, 800, 1600, 2400, 3200, 4000], "labels": false}},
                "y": {"field": "v", "type": "quantitative", "title": null, "scale": {"domain": [0, 1], "nice": false}, "axis": {"values": [0, 0.5, 1], "labels": false}}}},
  {"data": {"values": [{"t0": 0, "t1": 4240, "p": 0.1}]}, "mark": {"type": "rule", "color": "#ff7f0e", "strokeWidth": 2},
   "encoding": {"x": {"field": "t0", "type": "quantitative", "title": null}, "x2": {"field": "t1"}, "y": {"field": "p", "type": "quantitative", "title": null}}},
  {"data": {"values": [{"top": 1}]}, "mark": {"type": "rule", "color": "black", "strokeWidth": 1.5},
   "encoding": {"y": {"field": "top", "type": "quantitative", "title": null}}}
 ]},
{"width": 462, "height": 97, "title": {"text": "SMB-US-100", "offset": -3},
 "layer": [
  {"data": {"name": "e"}, "mark": {"type": "line", "color": "#1f77b4", "strokeWidth": 1.2},
   "encoding": {"x": {"field": "t", "type": "quantitative", "title": null, "scale": {"domain": [0, 4800], "nice": false, "zero": false}, "axis": {"values": [0, 800, 1600, 2400, 3200, 4000], "labels": false}},
                "y": {"field": "v", "type": "quantitative", "title": null, "scale": {"domain": [0, 1], "nice": false}, "axis": {"values": [0, 0.5, 1], "format": ".1f"}}}},
  {"data": {"values": [{"t0": 0, "t1": 4458, "p": 0.1}]}, "mark": {"type": "rule", "color": "#ff7f0e", "strokeWidth": 2},
   "encoding": {"x": {"field": "t0", "type": "quantitative", "title": null}, "x2": {"field": "t1"}, "y": {"field": "p", "type": "quantitative", "title": null}}}
 ]},
{"width": 453, "height": 97, "title": {"text": "SMB-CN-100", "dx": 5}, "view": {"stroke": null},
 "layer": [
  {"data": {"name": "f"}, "mark": {"type": "line", "color": "#1f77b4", "strokeWidth": 1.2},
   "encoding": {"x": {"field": "t", "type": "quantitative", "title": null, "scale": {"domain": [0, 4706], "nice": false, "zero": false}, "axis": {"values": [0, 800, 1600, 2400, 3200, 4000], "labels": false}},
                "y": {"field": "v", "type": "quantitative", "title": null, "scale": {"domain": [0, 1], "nice": false}, "axis": {"values": [0, 0.5, 1], "labels": false}}}},
  {"data": {"values": [{"t0": 0, "t1": 4465, "p": 0.1}]}, "mark": {"type": "rule", "color": "#ff7f0e", "strokeWidth": 2},
   "encoding": {"x": {"field": "t0", "type": "quantitative", "title": null}, "x2": {"field": "t1"}, "y": {"field": "p", "type": "quantitative", "title": null}}},
  {"data": {"values": [{"top": 1}]}, "mark": {"type": "rule", "color": "black", "strokeWidth": 1.5},
   "encoding": {"y": {"field": "top", "type": "quantitative", "title": null}}}
 ]},
{"width": 462, "height": 97, "title": {"text": "SMB-US-50", "offset": -3},
 "layer": [
  {"data": {"name": "g"}, "mark": {"type": "line", "color": "#1f77b4", "strokeWidth": 1.2},
   "encoding": {"x": {"field": "t", "type": "quantitative", "title": null, "scale": {"domain": [0, 4800], "nice": false, "zero": false}, "axis": {"values": [0, 800, 1600, 2400, 3200, 4000], "labelExpr": "['1-Jul-99','19-Aug-02','22-Sep-05','29-Oct-08','25-Nov-11','30-Dec-14'][round(datum.value/800)]", "labelAngle": -45, "labelAlign": "right", "labelBaseline": "top", "labelOffset": 27, "labelPadding": 12, "labelFlush": false, "labelOverlap": false, "labelBound": false}},
                "y": {"field": "v", "type": "quantitative", "title": null, "scale": {"domain": [0, 1], "nice": false}, "axis": {"values": [0, 0.5, 1], "format": ".1f"}}}},
  {"data": {"values": [{"t0": 0, "t1": 4512, "p": 0.1}]}, "mark": {"type": "rule", "color": "#ff7f0e", "strokeWidth": 2},
   "encoding": {"x": {"field": "t0", "type": "quantitative", "title": null}, "x2": {"field": "t1"}, "y": {"field": "p", "type": "quantitative", "title": null}}}
 ]},
{"width": 453, "height": 97, "title": {"text": "SMB-CN-50", "dx": 5}, "view": {"stroke": null},
 "layer": [
  {"data": {"name": "h"}, "mark": {"type": "line", "color": "#1f77b4", "strokeWidth": 1.2},
   "encoding": {"x": {"field": "t", "type": "quantitative", "title": null, "scale": {"domain": [0, 4706], "nice": false, "zero": false}, "axis": {"values": [0, 800, 1600, 2400, 3200, 4000], "labelExpr": "['1-Jul-99','19-Aug-02','22-Sep-05','29-Oct-08','25-Nov-11','30-Dec-14'][round(datum.value/800)]", "labelAngle": -45, "labelAlign": "right", "labelBaseline": "top", "labelOffset": 27, "labelPadding": 12, "labelFlush": false, "labelOverlap": false, "labelBound": false}},
                "y": {"field": "v", "type": "quantitative", "title": null, "scale": {"domain": [0, 1], "nice": false}, "axis": {"values": [0, 0.5, 1], "labels": false}}}},
  {"data": {"values": [{"t0": 0, "t1": 4517, "p": 0.1}]}, "mark": {"type": "rule", "color": "#ff7f0e", "strokeWidth": 2},
   "encoding": {"x": {"field": "t0", "type": "quantitative", "title": null}, "x2": {"field": "t1"}, "y": {"field": "p", "type": "quantitative", "title": null}}},
  {"data": {"values": [{"top": 1}]}, "mark": {"type": "rule", "color": "black", "strokeWidth": 1.5},
   "encoding": {"y": {"field": "top", "type": "quantitative", "title": null}}}
 ]}
],
"config": {
 "font": "DejaVu Sans",
 "view": {"stroke": "black", "strokeWidth": 1.5},
 "axis": {"grid": false, "domainColor": "black", "domainWidth": 1.5, "tickColor": "black", "tickWidth": 1.5, "tickSize": 10, "labelColor": "black", "labelFontSize": 23, "labelFont": "DejaVu Sans", "labelPadding": 8},
 "title": {"fontSize": 27, "fontWeight": "normal", "color": "black", "offset": 8, "frame": "group", "font": "DejaVu Sans"}
}
}
